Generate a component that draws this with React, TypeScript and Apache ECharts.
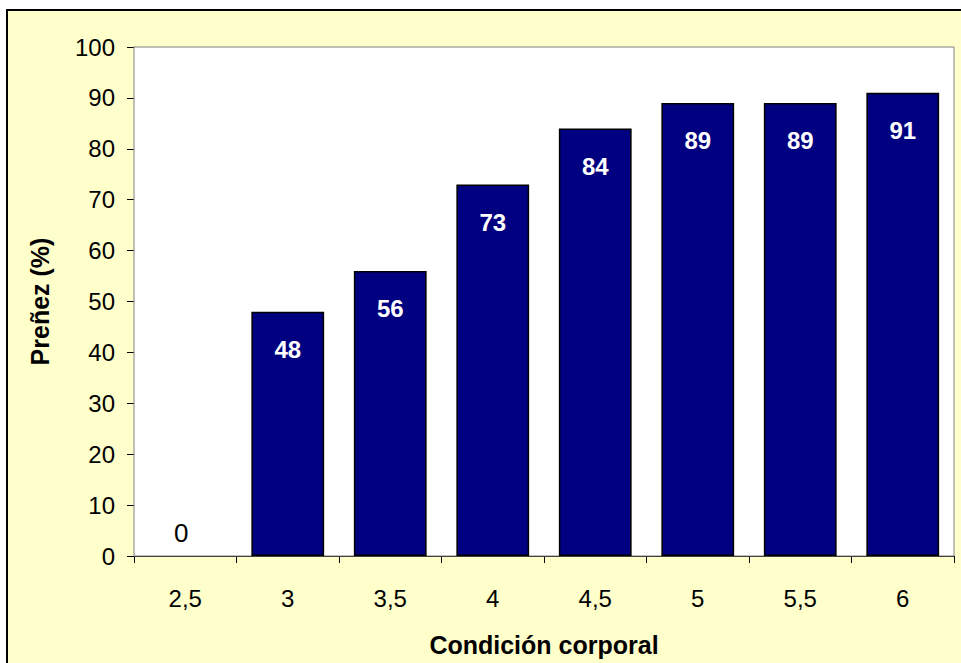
import React, { useEffect, useRef } from "react";
import * as echarts from "echarts";

const categories = ["2,5", "3", "3,5", "4", "4,5", "5", "5,5", "6"];
const values = [0, 48, 56, 73, 84, 89, 89, 91];
const yTitle = "Preñez (%)";
const xTitle = "Condición corporal";

export default function App() {
  const ref = useRef<HTMLDivElement>(null);
  useEffect(() => {
    const chart = echarts.init(ref.current!, null, { renderer: "svg" });
    const font = "'Liberation Sans', Arial, sans-serif";
    chart.setOption({
      animation: false,
      backgroundColor: "#ffffff",
      graphic: [
        {
          type: "rect",
          z: -100,
          silent: true,
          shape: { x: 7, y: 10, width: 980, height: 680 },
          style: { fill: "#FFFFCC", stroke: "#000000", lineWidth: 2 },
        },
      ],
      grid: {
        left: 134,
        top: 47,
        width: 820,
        height: 509,
        show: true,
        backgroundColor: "#ffffff",
        borderColor: "#808080",
        borderWidth: 1,
        z: 1,
      },
      xAxis: {
        type: "category",
        data: categories,
        name: xTitle,
        nameLocation: "middle",
        nameGap: 76,
        nameTextStyle: { fontFamily: font, fontSize: 25, fontWeight: "bold", color: "#000" },
        axisLine: { lineStyle: { color: "#000", width: 1 } },
        axisTick: { show: true, length: 7, alignWithLabel: false, lineStyle: { color: "#000" } },
        axisLabel: { fontFamily: font, fontSize: 24, color: "#000", margin: 30 },
      },
      yAxis: {
        type: "value",
        min: 0,
        max: 100,
        interval: 10,
        name: yTitle,
        nameLocation: "middle",
        nameGap: 82,
        nameTextStyle: { fontFamily: font, fontSize: 25, fontWeight: "bold", color: "#000" },
        axisLine: { show: true, lineStyle: { color: "#000", width: 1 } },
        axisTick: { show: true, length: 7, lineStyle: { color: "#000" } },
        axisLabel: { fontFamily: font, fontSize: 24, color: "#000", margin: 19 },
        splitLine: {
          show: true,
          lineStyle: {
            color: ["#000", "#000", "#000", "#000", "#000", "#000", "#000", "#000", "#000", "#000", "#808080"],
            width: 1,
          },
        },
      },
      series: [
        {
          type: "bar",
          barCategoryGap: "29%",
          itemStyle: { color: "#000080", borderColor: "#000000", borderWidth: 1.5 },
          label: {
            show: true,
            position: "insideTop",
            distance: 26,
            color: "#ffffff",
            fontFamily: font,
            fontSize: 24,
            fontWeight: "bold",
          },
          data: values.map((v) =>
            v === 0
              ? {
                  value: v,
                  itemStyle: { borderWidth: 0 },
                  label: {
                    position: "insideBottom",
                    distance: 10,
                    offset: [-4, 0],
                    color: "#000",
                    fontWeight: "normal",
                    fontSize: 26,
                  },
                }
              : v
          ),
        },
      ],
    });
    return () => chart.dispose();
  }, []);
  return (
    <div
      ref={ref}
      style={{ position: "absolute", left: 0, top: 0, width: 961, height: 663 }}
    />
  );
}
